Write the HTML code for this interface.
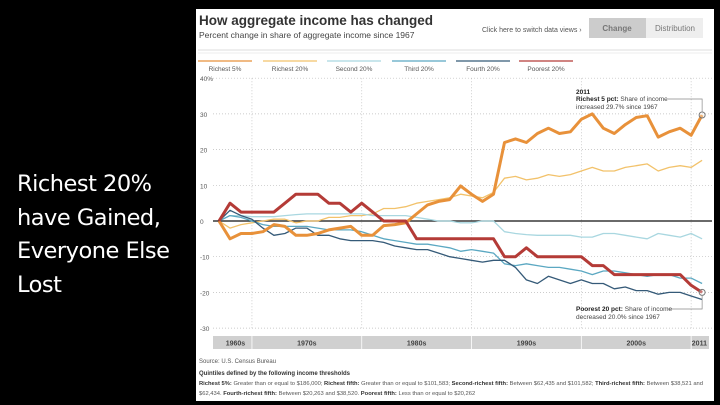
<!DOCTYPE html>
<html><head><meta charset="utf-8"><style>
body{margin:0;width:720px;height:405px;background:#000;overflow:hidden;font-family:"Liberation Sans",sans-serif;position:relative}
.side{position:absolute;left:17px;top:168px;color:#fff;font-size:22.5px;line-height:33.5px;font-family:"DejaVu Sans","Liberation Sans",sans-serif;letter-spacing:-0.5px}
.panel{position:absolute;left:196px;top:9px;width:518px;height:392px;background:#fff}
svg{position:absolute;left:0;top:0}
</style></head><body>
<div class="side">Richest 20%<br>have Gained,<br>Everyone Else<br>Lost</div>
<div class="panel"></div>
<svg id="c" width="720" height="405"></svg>
<script>
const years=[];for(let y=1967;y<=2011;y++)years.push(y);
const richest5=[0,-5,-3.5,-3.5,-3,-1,-1.5,-4,-4,-3.5,-2.5,-2,-1.5,-4,-4,-1.3,-1,-0.5,2,4.5,5.5,6,9.8,7.5,5.5,7.5,22,23,22,24.5,26,24.5,25,28.5,30,26,24.5,27,29,29.5,23.5,25,26,24,29.7];
const richest20=[0,-2,-1,-0.5,0,0.5,0.5,-0.5,0,0,1,1,1.5,1.5,2,3.5,3.5,4,5,5.5,6,6.5,7.5,7,6.5,8,12,12.5,11.5,12,13,12.5,13,14,15,14,14,15,15.5,16,14,15,15.5,15,17];
const second20=[0,1.5,1.5,1.2,1.2,1.2,1.5,1.8,2,2,2,2,2,2,1.5,1.5,1.5,1.5,1,0.5,0,0,-0.5,-0.5,0,0,-3,-3.5,-3.8,-4,-4,-4,-4,-4.5,-4.5,-3.5,-3.5,-4,-4.5,-5,-3.5,-4,-4.5,-3.5,-5];
const third20=[0,1.5,1,0,-1,-1.5,-1.5,-1.5,-1.5,-2,-2.5,-2.5,-2.5,-3,-4,-5,-5.5,-6,-6.5,-6.5,-7,-7.5,-8.5,-8,-8.5,-9,-12,-12.5,-12,-12.5,-13,-13,-13.5,-14,-15,-14,-14,-14.5,-15,-15.5,-15,-15,-16,-16,-17.5];
const fourth20=[0,3,1.5,0.5,-2,-4,-3.5,-2,-2,-4,-4,-5,-5.5,-5.5,-5.5,-6,-7,-7.5,-8,-8,-9,-10,-10.5,-11,-11.5,-11,-11,-13,-16.5,-17.5,-15.5,-16.5,-17.5,-16.5,-17.5,-17.5,-19,-18.5,-19.5,-19.5,-20.5,-20,-20,-21,-22];
const poorest20=[0,5,2.5,2.5,2.5,2.5,5,7.5,7.5,7.5,5,5,2.5,5,2.5,0,0,0,-5,-5,-5,-5,-5,-5,-5,-5,-10,-10,-7.5,-10,-10,-10,-10,-10,-12.5,-12.5,-15,-15,-15,-15,-15,-15,-15,-18,-20];
const yTicks=[40,30,20,10,0,-10,-20,-30];
const yTickLabels=["40%","30","20","10","0","-10","-20","-30"];
const decades=["1960s","1970s","1980s","1990s","2000s","2011"];
const decadeStart=[1967,1970,1980,1990,2000,2010];
const decadeEnd=[1970,1980,1990,2000,2010,2011.5];
const seriesNames=["Richest 5%","Richest 20%","Second 20%","Third 20%","Fourth 20%","Poorest 20%"];

const X=y=>219+(y-1967)*10.98;
const Y=v=>221-v*3.57;
const s=document.getElementById('c');const NS='http://www.w3.org/2000/svg';
function el(t,a,txt){const e=document.createElementNS(NS,t);for(const k in a)e.setAttribute(k,a[k]);if(txt!=null)e.textContent=txt;s.appendChild(e);return e;}
let e;
e=el('text',{x:199,y:25,'font-size':13.5,'font-weight':'bold',fill:'#333'},'How aggregate income has changed');

e=el('text',{x:199,y:38,'font-size':8.5,fill:'#444'},'Percent change in share of aggregate income since 1967');

e=el('text',{x:482,y:32,'font-size':7,fill:'#555'},'Click here to switch data views ›');

e=el('rect',{x:589,y:18,width:57,height:20,fill:'#ccc'});

el('text',{x:617,y:31,'font-size':8,fill:'#777','text-anchor':'middle','font-weight':'bold'},'Change');
e=el('rect',{x:646,y:18,width:57,height:20,fill:'#eee'});

el('text',{x:675,y:31,'font-size':8,fill:'#777','text-anchor':'middle'},'Distribution');
el('line',{x1:198,y1:50,x2:712,y2:50,stroke:'#ddd'});
el('line',{x1:198,y1:53,x2:712,y2:53,stroke:'#eee'});
const colors=['#e8913a','#f2c26b','#a9d7e0','#5ba8c2','#355a78','#b43b37'];
const widths=[3,1.3,1.3,1.3,1.3,3];
const legX=[198,263,327,392,456,519];
seriesNames.forEach((n,i)=>{
 const g=el('line',{x1:legX[i],y1:61,x2:legX[i]+54,y2:61,stroke:colors[i],'stroke-width':1.3});
 
 el('text',{x:legX[i]+27,y:71,'font-size':6.5,fill:'#555','text-anchor':'middle'},n);
});
yTicks.forEach((t,i)=>{
 const g=el('line',{x1:213,y1:Y(t),x2:712,y2:Y(t),stroke:'#bbb','stroke-dasharray':'1,2','stroke-width':0.7});
 
 const l=el('text',{x:200,y:Y(t)+3,'font-size':6.5,fill:'#555'},yTickLabels[i]);
 
});
[1970,1980,1990,2000,2010].forEach(d=>el('line',{x1:X(d),y1:Y(40),x2:X(d),y2:Y(-30),stroke:'#bbb','stroke-dasharray':'1,2','stroke-width':0.7}));
e=el('line',{x1:213,y1:Y(0),x2:712,y2:Y(0),stroke:'#111','stroke-width':1.2});

el('rect',{x:213,y:336,width:496,height:13,fill:'#d0d0d0'});
decades.forEach((d,i)=>{
 if(i>0)el('line',{x1:X(decadeStart[i]),y1:336,x2:X(decadeStart[i]),y2:349,stroke:'#fff','stroke-width':0.8});
 const l=el('text',{x:(Math.max(X(decadeStart[i]),213)+Math.min(X(decadeEnd[i]),709))/2,y:345.5,'font-size':7,'font-weight':'bold',fill:'#444','text-anchor':'middle'},d);
 
});
const series=[richest5,richest20,second20,third20,fourth20,poorest20];
const names=['richest-5-line','richest-20-line','second-20-line','third-20-line','fourth-20-line','poorest-20-line'];
[1,2,3,4,0,5].forEach(i=>{
 const d=series[i].map((v,j)=>(j?'L':'M')+X(years[j]).toFixed(1)+','+Y(v).toFixed(1)).join('');
 const p=el('path',{d:d,fill:'none',stroke:colors[i],'stroke-width':widths[i],'stroke-linejoin':'round'});
 
 
});
const lx=X(2011);
el('circle',{cx:lx,cy:Y(richest5[44]),r:3,fill:'#fff','fill-opacity':0.3,stroke:'#777'});
el('circle',{cx:lx,cy:Y(poorest20[44]),r:3,fill:'#fff','fill-opacity':0.3,stroke:'#777'});
el('polyline',{points:`668,99 ${lx},99 ${lx},${Y(richest5[44])-3}`,fill:'none',stroke:'#888','stroke-width':0.7});
el('polyline',{points:`668,309 ${lx},309 ${lx},${Y(poorest20[44])+3}`,fill:'none',stroke:'#888','stroke-width':0.7});
e=el('text',{x:576,y:94,'font-size':6.5,'font-weight':'bold',fill:'#222'},'2011');
el('text',{x:576,y:101,'font-size':6.5,fill:'#444'},'').innerHTML='<tspan font-weight="bold" fill="#222">Richest 5 pct:</tspan> Share of income';
el('text',{x:576,y:109,'font-size':6.5,fill:'#444'},'increased 29.7% since 1967');
el('text',{x:576,y:311,'font-size':6.5,fill:'#444'},'').innerHTML='<tspan font-weight="bold" fill="#222">Poorest 20 pct:</tspan> Share of income';
el('text',{x:576,y:319,'font-size':6.5,fill:'#444'},'decreased 20.0% since 1967');
el('text',{x:199,y:363,'font-size':6,fill:'#555'},'Source: U.S. Census Bureau');
el('text',{x:199,y:375,'font-size':6,'font-weight':'bold',fill:'#333'},'Quintiles defined by the following income thresholds');
el('text',{x:199,y:385,'font-size':5.8,fill:'#555'},'').innerHTML='<tspan font-weight="bold" fill="#333">Richest 5%:</tspan> Greater than or equal to $186,000; <tspan font-weight="bold" fill="#333">Richest fifth:</tspan> Greater than or equal to $101,583; <tspan font-weight="bold" fill="#333">Second-richest fifth:</tspan> Between $62,435 and $101,582; <tspan font-weight="bold" fill="#333">Third-richest fifth:</tspan> Between $38,521 and';
el('text',{x:199,y:395,'font-size':5.8,fill:'#555'},'').innerHTML='$62,434. <tspan font-weight="bold" fill="#333">Fourth-richest fifth:</tspan> Between $20,263 and $38,520. <tspan font-weight="bold" fill="#333">Poorest fifth:</tspan> Less than or equal to $20,262';
</script>
</body></html>
